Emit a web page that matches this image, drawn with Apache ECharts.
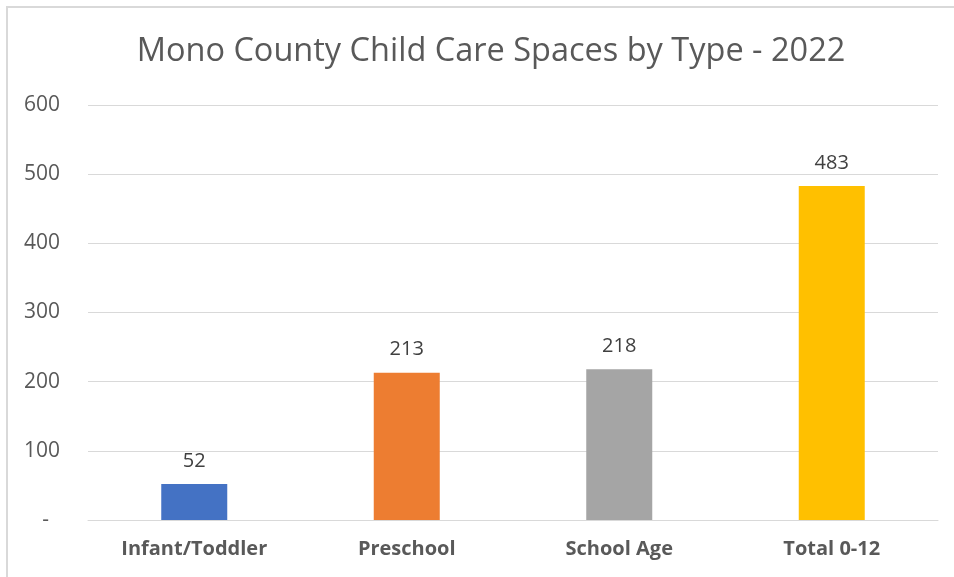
<!DOCTYPE html>
<html><head><meta charset="utf-8">
<script src="https://cdn.jsdelivr.net/npm/echarts@6/dist/echarts.min.js"></script>
<style>html,body{margin:0;padding:0;background:#fff}#c{width:954px;height:577px}</style>
</head><body><div id="c"></div>
<script>
const categories = ["Infant/Toddler", "Preschool", "School Age", "Total 0-12"];
const values = [52, 213, 218, 483];
const colors = ["#4472C4", "#ED7D31", "#A5A5A5", "#FFC000"];
const yTicks = [0, 100, 200, 300, 400, 500, 600];

const chart = echarts.init(document.getElementById('c'));
chart.setOption({
  animation: false,
  title: {
    text: "Mono County Child Care Spaces by Type - 2022",
    left: 486, top: 30, textAlign: 'center',
    textStyle: {fontFamily: 'Open Sans', fontSize: 32.5, fontWeight: 'normal', color: '#595959'}
  },
  graphic: [{
    type: 'polyline', shape: {points: [[7, 577], [7, 7], [954, 7]]},
    style: {stroke: '#d9d9d9', lineWidth: 2, fill: null}
  }],
  grid: {left: 88, right: 16, top: 105, bottom: 57},
  xAxis: {
    type: 'category', data: categories,
    axisLine: {show: true, lineStyle: {color: '#d9d9d9', width: 1}},
    axisTick: {show: false},
    axisLabel: {fontFamily: 'Open Sans', fontSize: 20, fontWeight: 'bold', color: '#595959', margin: 19}
  },
  yAxis: {
    type: 'value', min: yTicks[0], max: yTicks[yTicks.length - 1], interval: 100,
    axisLine: {show: false}, axisTick: {show: false},
    splitLine: {lineStyle: {color: '#d9d9d9', width: 1}},
    axisLabel: {
      fontFamily: 'Open Sans', fontSize: 21, color: '#595959', margin: 28,
      formatter: v => v === 0 ? '-  ' : String(v)
    }
  },
  series: [{
    type: 'bar', barWidth: 66,
    data: values.map((v, i) => ({value: v, itemStyle: {color: colors[i]}})),
    label: {show: true, position: 'top', distance: 13, fontFamily: 'Open Sans', fontSize: 20, color: '#404040'}
  }]
});
</script></body></html>
